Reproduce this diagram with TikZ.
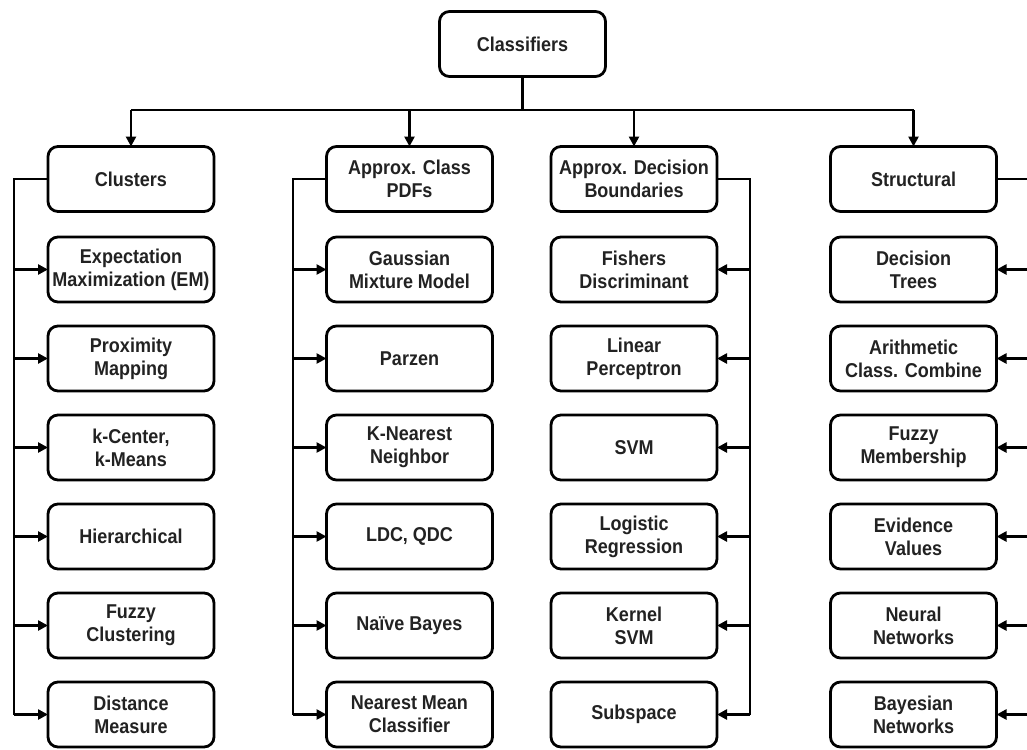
\documentclass[tikz,border=0pt]{standalone}
\usepackage{fontspec}
\setmainfont{Liberation Sans}[FakeStretch=0.9]
\usetikzlibrary{arrows.meta}
\definecolor{ink}{HTML}{222222}
\tikzset{
  box/.style={draw=black, line width=2.8pt, rounded corners=10pt, fill=white,
    minimum width=166pt, minimum height=65pt, inner sep=0pt, outer sep=0pt,
    align=center, text=ink, font=\fontsize{20}{23}\selectfont\bfseries},
  wire/.style={draw=black, line width=2.8pt},
  arr/.style={wire, -{Triangle[length=10pt,width=10pt]}}
}
\begin{document}
\begin{tikzpicture}[x=1pt, y=-1pt]
\useasboundingbox (0,0) rectangle (1027,749);

% root
\node[box] (root) at (522.5,44) {Classifiers};

% category boxes
\node[box] (clu) at (131,179)   {Clusters};
\node[box] (pdf) at (409.5,179) {Approx. Class\\PDFs};
\node[box] (dec) at (634,179)   {Approx. Decision\\Boundaries};
\node[box] (str) at (913.5,179) {Structural};

% cluster methods
\node[box] (c1) at (131,269.5) {Expectation\\Maximization (EM)};
\node[box] (c2) at (131,358.5) {Proximity\\Mapping};
\node[box] (c3) at (131,447.5) {k-Center,\\k-Means};
\node[box] (c4) at (131,536.5) {Hierarchical};
\node[box] (c5) at (131,625.5) {Fuzzy\\Clustering};
\node[box] (c6) at (131,714.5) {Distance\\Measure};

% density methods
\node[box] (p1) at (409.5,269.5) {Gaussian\\Mixture Model};
\node[box] (p2) at (409.5,358.5) {Parzen};
\node[box] (p3) at (409.5,447.5) {K-Nearest\\Neighbor};
\node[box] (p4) at (409.5,536.5) {LDC, QDC};
\node[box] (p5) at (409.5,625.5) {Naïve Bayes};
\node[box] (p6) at (409.5,714.5) {Nearest Mean\\Classifier};

% boundary methods
\node[box] (d1) at (634,269.5) {Fishers\\Discriminant};
\node[box] (d2) at (634,358.5) {Linear\\Perceptron};
\node[box] (d3) at (634,447.5) {SVM};
\node[box] (d4) at (634,536.5) {Logistic\\Regression};
\node[box] (d5) at (634,625.5) {Kernel\\SVM};
\node[box] (d6) at (634,714.5) {Subspace};

% structural methods
\node[box] (s1) at (913.5,269.5) {Decision\\Trees};
\node[box] (s2) at (913.5,358.5) {Arithmetic\\Class. Combine};
\node[box] (s3) at (913.5,447.5) {Fuzzy\\Membership};
\node[box] (s4) at (913.5,536.5) {Evidence\\Values};
\node[box] (s5) at (913.5,625.5) {Neural\\Networks};
\node[box] (s6) at (913.5,714.5) {Bayesian\\Networks};

% bus positions
\coordinate (top) at (0,110);
\coordinate (b1) at (14,0);
\coordinate (b2) at (293,0);
\coordinate (b3) at (750,0);
\coordinate (b4) at (1028,0);

% root to categories
\draw[wire] (root.south) -- (root.south |- top);
\draw[wire] (clu.north |- top) -- (str.north |- top);
\foreach \n in {clu,pdf,dec,str}
  \draw[arr] (\n.north |- top) -- (\n.north);

% category buses
\draw[wire] (clu.west) -- (clu.west -| b1) -- (c6.west -| b1);
\draw[wire] (pdf.west) -- (pdf.west -| b2) -- (p6.west -| b2);
\draw[wire] (dec.east) -- (dec.east -| b3) -- (d6.east -| b3);
\draw[wire] (str.east) -- (str.east -| b4) -- (s6.east -| b4);

\foreach \n in {c1,c2,c3,c4,c5,c6}
  \draw[arr] (\n.west -| b1) -- (\n.west);
\foreach \n in {p1,p2,p3,p4,p5,p6}
  \draw[arr] (\n.west -| b2) -- (\n.west);
\foreach \n in {d1,d2,d3,d4,d5,d6}
  \draw[arr] (\n.east -| b3) -- (\n.east);
\foreach \n in {s1,s2,s3,s4,s5,s6}
  \draw[arr] (\n.east -| b4) -- (\n.east);
\end{tikzpicture}
\end{document}
